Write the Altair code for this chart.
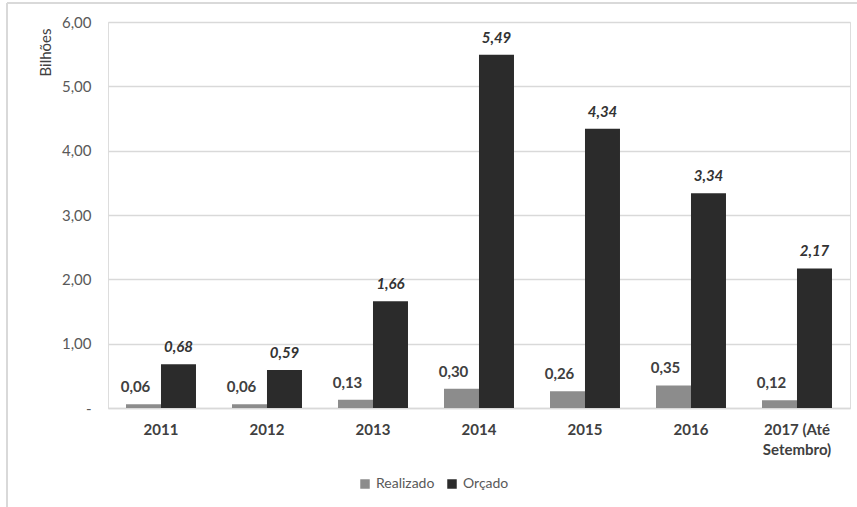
import altair as alt
import pandas as pd

categories = ["2011", "2012", "2013", "2014", "2015", "2016", "2017 (Até\nSetembro)"]
realizado = [0.06, 0.06, 0.13, 0.30, 0.26, 0.35, 0.12]
orcado = [0.68, 0.59, 1.66, 5.49, 4.34, 3.34, 2.17]
series = ["Realizado", "Orçado"]
colors = ["#8c8c8c", "#2b2b2b"]

rows = []
for c, r, o in zip(categories, realizado, orcado):
    rows.append({"ano": c, "serie": "Realizado", "valor": r, "rotulo": f"{r:.2f}".replace(".", ",")})
    rows.append({"ano": c, "serie": "Orçado", "valor": o, "rotulo": f"{o:.2f}".replace(".", ",")})
df = pd.DataFrame(rows)

FONT = "Lato"

x = alt.X("ano:N", sort=categories, title=None,
          scale=alt.Scale(paddingInner=0.34, paddingOuter=0.17),
          axis=alt.Axis(labelAngle=0, labelFontWeight="bold", labelFontSize=15,
                        labelColor="#404040", labelPadding=14, ticks=False,
                        domainColor="#d9d9d9", domainWidth=1.5,
                        labelExpr="split(datum.label, '\\n')", labelLineHeight=20))
xoff = alt.XOffset("serie:N", sort=series, scale=alt.Scale(paddingInner=0, domain=series))

bars = alt.Chart(df).mark_bar(size=35).encode(
    x=x,
    xOffset=xoff,
    y=alt.Y("valor:Q", title="Bilhões",
            scale=alt.Scale(domain=[0, 6]),
            axis=alt.Axis(values=[0, 1, 2, 3, 4, 5, 6], domain=False, ticks=False,
                          labelColor="#595959", labelFontSize=15, labelPadding=17,
                          gridColor="#d9d9d9", gridWidth=1.5,
                          labelExpr="datum.value == 0 ? '-' : replace(format(datum.value, '.2f'), '.', ',')",
                          titleAngle=-90, titleX=-63, titleY=6, titleAlign="right",
                          titleBaseline="middle", titleFontWeight="normal",
                          titleFontSize=15, titleColor="#404040")),
    color=alt.Color("serie:N", sort=series,
                    scale=alt.Scale(domain=series, range=colors),
                    legend=alt.Legend(title=None, orient="none", direction="horizontal",
                                      legendX=250, legendY=455, symbolType="square",
                                      symbolSize=90, labelFontSize=14, labelColor="#595959",
                                      columnPadding=10, symbolStrokeWidth=0)),
)

lab_r = alt.Chart(df).transform_filter("datum.serie == 'Realizado'").mark_text(
    dy=-9, dx=-8, fontWeight="bold", fontSize=15, color="#404040", baseline="bottom"
).encode(x=x, xOffset=xoff, y="valor:Q", text="rotulo:N")

lab_o = alt.Chart(df).transform_filter("datum.serie == 'Orçado'").mark_text(
    dy=-9, fontWeight="bold", fontStyle="italic", fontSize=15, color="#333333", baseline="bottom"
).encode(x=x, xOffset=xoff, y="valor:Q", text="rotulo:N")

frame_top = alt.Chart(df).mark_rule(color="#d9d9d9", strokeWidth=1.5).encode(
    x=alt.value(-101), x2=alt.value(760), y=alt.value(-19))
frame_left = alt.Chart(df).mark_rule(color="#d9d9d9", strokeWidth=1.5).encode(
    x=alt.value(-101), y=alt.value(-19), y2=alt.value(500))

chart = alt.layer(bars, lab_r, lab_o, frame_top, frame_left).properties(
    width=742, height=386,
    autosize=alt.AutoSizeParams(type="none"),
    padding={"left": 108, "top": 22, "right": 7, "bottom": 99},
).configure_view(stroke=None).configure(font=FONT)

chart.save("out.html", embed_options={"renderer": "svg", "actions": False})
